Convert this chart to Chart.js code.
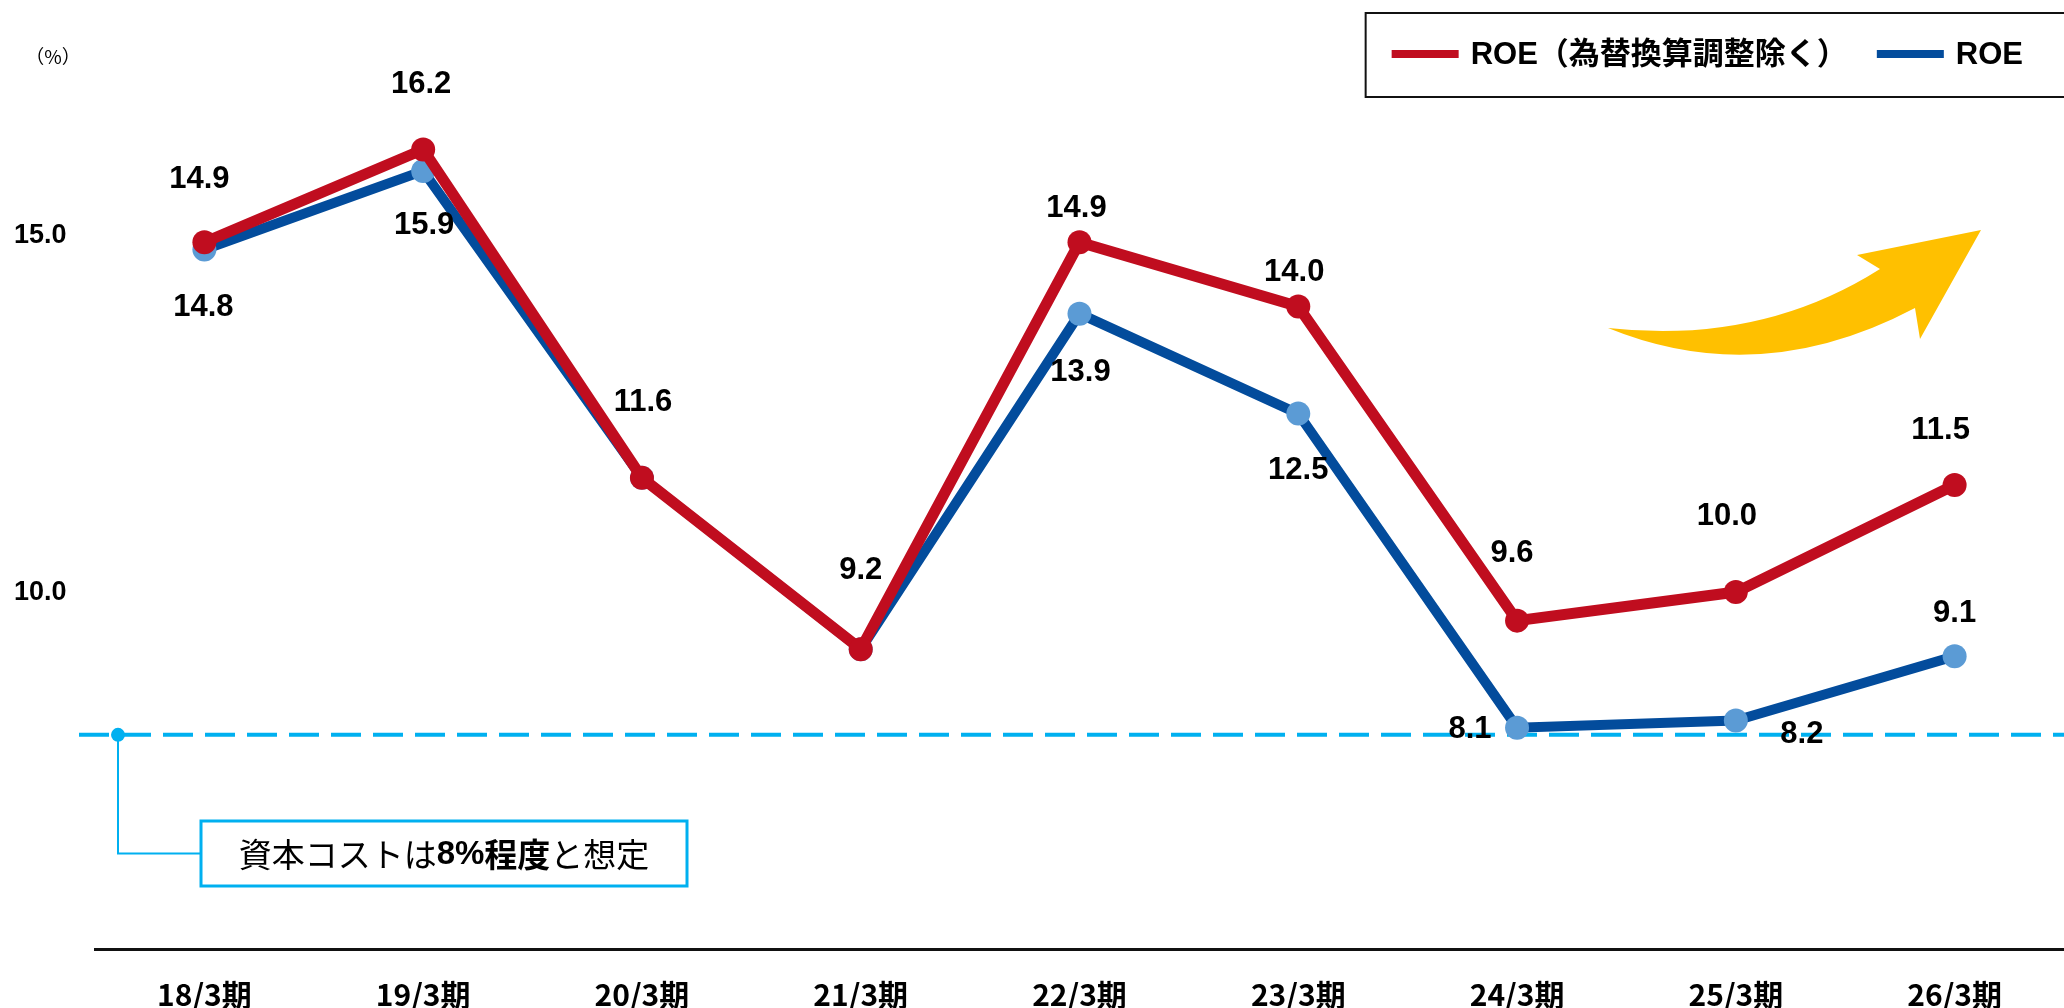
<!DOCTYPE html>
<html lang="ja">
<head>
<meta charset="utf-8">
<title>ROE推移</title>
<script src="https://cdn.jsdelivr.net/npm/chart.js@4.4.1/dist/chart.umd.min.js"></script>
<style>
  html, body { margin: 0; padding: 0; background: #fff; }
  #wrap { width: 2064px; height: 1008px; }
</style>
</head>
<body>
<div id="wrap"><canvas id="roeChart" width="2064" height="1008"></canvas></div>
<script>
// 決算期
var periods = ['18/3期', '19/3期', '20/3期', '21/3期', '22/3期', '23/3期', '24/3期', '25/3期', '26/3期'];
// ROE（為替換算調整除く） %
var roeExFx = [14.9, 16.2, 11.6, 9.2, 14.9, 14.0, 9.6, 10.0, 11.5];
// ROE %
var roe = [14.8, 15.9, 11.6, 9.2, 13.9, 12.5, 8.1, 8.2, 9.1];
// 目盛
var yTicks = [10, 15];
// 資本コスト想定 %
var capitalCost = 8;

// ラベル位置（点からのずれ px）、null は表示しない
var roeExFxLabelShift = [[-5, -63], [-2, -65], [1, -75], [0, -79], [-3, -34], [-4, -34], [-5, -67], [-9, -76], [-14, -55]];
var roeLabelShift = [[-1, 58], [1, 55], null, null, [1, 59], [0, 57], [-47, 2], [66, 14], [0, -43]];

var RED = '#c00d1f';
var BLUE = '#034c9c';
var LIGHT_BLUE = '#5b9bd5';
var CYAN = '#00b0f0';
var YELLOW = '#ffc000';
var LATIN = "'Liberation Sans', Arial, 'Noto Sans CJK JP', sans-serif";
var NARROW = "'Liberation Sans Narrow', 'Arial Narrow', 'Noto Sans CJK JP', sans-serif";
var JP = "'Noto Sans CJK JP', 'Liberation Sans', sans-serif";

Chart.defaults.font.family = LATIN;
Chart.defaults.color = '#000';

// 値ラベル
var valueLabels = {
    id: 'valueLabels',
    afterDatasetsDraw: function(chart) {
        var ctx = chart.ctx;
        var shifts = [roeExFxLabelShift, roeLabelShift];
        ctx.save();
        ctx.font = 'bold 31px ' + LATIN;
        ctx.fillStyle = '#000';
        ctx.textAlign = 'center';
        ctx.textBaseline = 'middle';
        chart.data.datasets.forEach(function(ds, i) {
            var meta = chart.getDatasetMeta(i);
            meta.data.forEach(function(pt, j) {
                var s = shifts[i][j];
                if (!s) return;
                ctx.fillText(ds.data[j].toFixed(1), pt.x + s[0], pt.y + s[1]);
            });
        });
        ctx.restore();
    }
};

// 資本コストの破線と注記
var costLine = {
    id: 'costLine',
    beforeDatasetsDraw: function(chart) {
        var ctx = chart.ctx;
        var y = chart.scales.y.getPixelForValue(capitalCost);
        var boxL = 201, boxR = 687, boxT = chart.chartArea.bottom - 128, boxB = chart.chartArea.bottom - 63;
        var boxMid = (boxT + boxB) / 2;
        ctx.save();
        ctx.strokeStyle = CYAN;
        ctx.lineWidth = 4;
        ctx.setLineDash([30, 12]);
        ctx.beginPath();
        ctx.moveTo(79, y);
        ctx.lineTo(chart.width, y);
        ctx.stroke();
        ctx.setLineDash([]);

        ctx.fillStyle = CYAN;
        ctx.beginPath();
        ctx.arc(118, y, 7, 0, Math.PI * 2);
        ctx.fill();

        ctx.lineWidth = 2;
        ctx.beginPath();
        ctx.moveTo(118, y);
        ctx.lineTo(118, boxMid);
        ctx.lineTo(boxL, boxMid);
        ctx.stroke();

        ctx.lineWidth = 3;
        ctx.strokeRect(boxL, boxT, boxR - boxL, boxB - boxT);

        var parts = [
            ['資本コストは', '33px ' + JP],
            ['8%', 'bold 33px ' + LATIN],
            ['程度', 'bold 33px ' + JP],
            ['と想定', '33px ' + JP]
        ];
        var total = 0;
        parts.forEach(function(p) { ctx.font = p[1]; p.push(ctx.measureText(p[0]).width); total += p[2]; });
        var x = (boxL + boxR) / 2 - total / 2;
        ctx.fillStyle = '#000';
        ctx.textBaseline = 'middle';
        ctx.textAlign = 'left';
        parts.forEach(function(p) { ctx.font = p[1]; ctx.fillText(p[0], x, boxMid + 1); x += p[2]; });
        ctx.restore();
    }
};

// 凡例（枠付き）、単位、矢印
var decorations = {
    id: 'decorations',
    afterDraw: function(chart) {
        var ctx = chart.ctx;
        ctx.save();

        // 単位
        ctx.font = '19px ' + JP;
        ctx.fillStyle = '#000';
        ctx.textAlign = 'center';
        ctx.textBaseline = 'middle';
        ctx.fillText('（%）', 53, 57);

        // 凡例
        var sample = 67, gap = 12, between = 29, cy = 54;
        ctx.font = 'bold 31px ' + LATIN;
        var items = chart.data.datasets.map(function(ds) {
            return { text: ds.label, color: ds.borderColor, w: ctx.measureText(ds.label).width };
        });
        var width = items.reduce(function(a, it) { return a + sample + gap + it.w; }, 0) + between * (items.length - 1);
        var x = chart.width - 41 - width;
        ctx.strokeStyle = '#111';
        ctx.lineWidth = 2;
        ctx.strokeRect(x - 26, 13, chart.width - x + 40, 84);
        ctx.textAlign = 'left';
        items.forEach(function(it) {
            ctx.fillStyle = it.color;
            ctx.fillRect(x, cy - 4, sample, 8);
            ctx.fillStyle = '#000';
            ctx.fillText(it.text, x + sample + gap, cy + 1);
            x += sample + gap + it.w + between;
        });

        // 上昇矢印
        ctx.fillStyle = YELLOW;
        ctx.beginPath();
        ctx.moveTo(1608, 328);
        ctx.quadraticCurveTo(1760, 345, 1880, 269);
        ctx.lineTo(1857, 255);
        ctx.lineTo(1981, 230);
        ctx.lineTo(1920, 339);
        ctx.lineTo(1915, 308);
        ctx.quadraticCurveTo(1760, 390, 1608, 328);
        ctx.closePath();
        ctx.fill();
        ctx.restore();
    }
};

new Chart(document.getElementById('roeChart'), {
    type: 'line',
    data: {
        labels: periods,
        datasets: [{
            label: 'ROE（為替換算調整除く）',
            data: roeExFx,
            borderColor: RED,
            backgroundColor: RED,
            borderWidth: 11,
            pointRadius: 12,
            pointBackgroundColor: RED,
            pointBorderWidth: 0,
            tension: 0
        }, {
            label: 'ROE',
            data: roe,
            borderColor: BLUE,
            backgroundColor: BLUE,
            borderWidth: 10,
            pointRadius: 12,
            pointBackgroundColor: LIGHT_BLUE,
            pointBorderWidth: 0,
            tension: 0
        }]
    },
    options: {
        responsive: false,
        animation: false,
        layout: { autoPadding: false, padding: { left: 14, right: 0, top: 21, bottom: 0 } },
        plugins: {
            legend: { display: false },
            tooltip: { enabled: false }
        },
        scales: {
            x: {
                offset: true,
                // 目盛線は描かず、長さだけラベルとの間隔に使う
                grid: { display: false, drawTicks: true, tickLength: 32 },
                border: { display: true, color: '#111', width: 3 },
                ticks: {
                    padding: 0,
                    font: { family: NARROW, size: 30, weight: 'bold', lineHeight: 0.9 },
                    color: '#000'
                }
            },
            y: {
                min: 5,
                max: 18,
                grid: { display: false, drawTicks: false },
                border: { display: false },
                afterBuildTicks: function(scale) {
                    scale.ticks = yTicks.map(function(v) { return { value: v }; });
                },
                afterFit: function(scale) { scale.width = 81; },
                ticks: {
                    crossAlign: 'far',
                    padding: 0,
                    font: { size: 27, weight: 'bold' },
                    color: '#000',
                    callback: function(v) { return v.toFixed(1); }
                }
            }
        }
    },
    plugins: [costLine, valueLabels, decorations]
});
</script>
</body>
</html>
